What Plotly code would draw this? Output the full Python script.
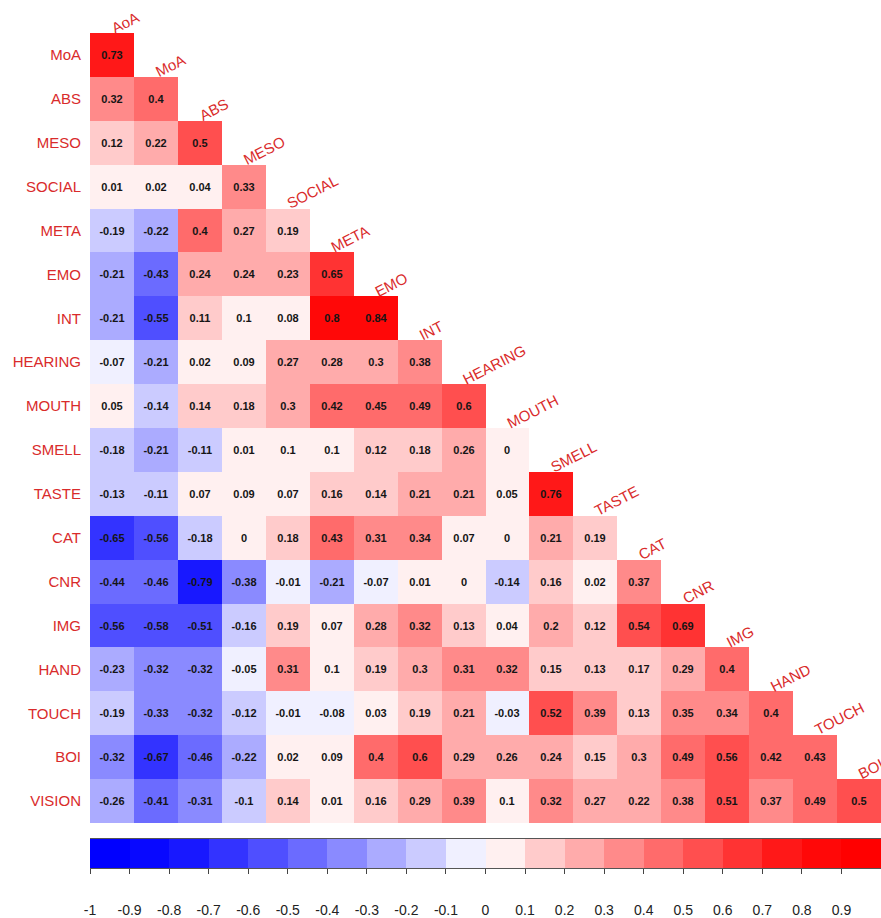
import plotly.graph_objects as go

# ---------------- data ----------------
variables = ["AoA", "MoA", "ABS", "MESO", "SOCIAL", "META", "EMO", "INT", "HEARING",
             "MOUTH", "SMELL", "TASTE", "CAT", "CNR", "IMG", "HAND", "TOUCH", "BOI", "VISION"]
col_labels = variables[:-1]   # columns AoA .. BOI
row_labels = variables[1:]    # rows MoA .. VISION

r_MoA = [0.73]
r_ABS = [0.32, 0.4]
r_MESO = [0.12, 0.22, 0.5]
r_SOCIAL = [0.01, 0.02, 0.04, 0.33]
r_META = [-0.19, -0.22, 0.4, 0.27, 0.19]
r_EMO = [-0.21, -0.43, 0.24, 0.24, 0.23, 0.65]
r_INT = [-0.21, -0.55, 0.11, 0.1, 0.08, 0.8, 0.84]
r_HEARING = [-0.07, -0.21, 0.02, 0.09, 0.27, 0.28, 0.3, 0.38]
r_MOUTH = [0.05, -0.14, 0.14, 0.18, 0.3, 0.42, 0.45, 0.49, 0.6]
r_SMELL = [-0.18, -0.21, -0.11, 0.01, 0.1, 0.1, 0.12, 0.18, 0.26, 0]
r_TASTE = [-0.13, -0.11, 0.07, 0.09, 0.07, 0.16, 0.14, 0.21, 0.21, 0.05, 0.76]
r_CAT = [-0.65, -0.56, -0.18, 0, 0.18, 0.43, 0.31, 0.34, 0.07, 0, 0.21, 0.19]
r_CNR = [-0.44, -0.46, -0.79, -0.38, -0.01, -0.21, -0.07, 0.01, 0, -0.14, 0.16, 0.02, 0.37]
r_IMG = [-0.56, -0.58, -0.51, -0.16, 0.19, 0.07, 0.28, 0.32, 0.13, 0.04, 0.2, 0.12, 0.54, 0.69]
r_HAND = [-0.23, -0.32, -0.32, -0.05, 0.31, 0.1, 0.19, 0.3, 0.31, 0.32, 0.15, 0.13, 0.17, 0.29, 0.4]
r_TOUCH = [-0.19, -0.33, -0.32, -0.12, -0.01, -0.08, 0.03, 0.19, 0.21, -0.03, 0.52, 0.39, 0.13,
           0.35, 0.34, 0.4]
r_BOI = [-0.32, -0.67, -0.46, -0.22, 0.02, 0.09, 0.4, 0.6, 0.29, 0.26, 0.24, 0.15, 0.3, 0.49,
         0.56, 0.42, 0.43]
r_VISION = [-0.26, -0.41, -0.31, -0.1, 0.14, 0.01, 0.16, 0.29, 0.39, 0.1, 0.32, 0.27, 0.22,
            0.38, 0.51, 0.37, 0.49, 0.5]

rows = [r_MoA, r_ABS, r_MESO, r_SOCIAL, r_META, r_EMO, r_INT, r_HEARING, r_MOUTH, r_SMELL,
        r_TASTE, r_CAT, r_CNR, r_IMG, r_HAND, r_TOUCH, r_BOI, r_VISION]

# colour legend
bin_colors = ["#0000FF", "#0808FF", "#1818FF", "#3333FF", "#4F4FFF", "#6B6BFF", "#8A8AFF",
              "#ABABFF", "#CBCBFF", "#F0F0FF", "#FFF0F0", "#FFCBCB", "#FFABAB", "#FF8A8A",
              "#FF6B6B", "#FF4F4F", "#FF3333", "#FF1818", "#FF0808", "#FF0000"]
legend_bins = [-0.95, -0.85, -0.75, -0.65, -0.55, -0.45, -0.35, -0.25, -0.15, -0.05,
               0.05, 0.15, 0.25, 0.35, 0.45, 0.55, 0.65, 0.75, 0.85, 0.95]
legend_ticks = [-1, -0.9, -0.8, -0.7, -0.6, -0.5, -0.4, -0.3, -0.2, -0.1, 0,
                0.1, 0.2, 0.3, 0.4, 0.5, 0.6, 0.7, 0.8, 0.9, 1]
legend_ticktext = ["-1", "-0.9", "-0.8", "-0.7", "-0.6", "-0.5", "-0.4", "-0.3", "-0.2", "-0.1",
                   "0", "0.1", "0.2", "0.3", "0.4", "0.5", "0.6", "0.7", "0.8", "0.9", "1"]

# ---------------- build ----------------
n = len(col_labels)
colorscale = []
for i, c in enumerate(bin_colors):
    colorscale.append([i / 20, c])
    colorscale.append([(i + 1) / 20, c])

z = []
txt = []
for r in rows:
    zr = list(r) + [None] * (n - len(r))
    z.append(zr)
    txt.append([("" if v is None else f"{v:g}") for v in zr])

LABEL_RED = "#D92B2B"

fig = go.Figure()
fig.add_trace(go.Heatmap(
    z=z, x=list(range(n)), y=list(range(len(rows))),
    text=txt, texttemplate="%{text}",
    textfont=dict(family="Liberation Sans", size=11, color="#151515", weight="bold"),
    colorscale=colorscale, zmin=-1, zmax=1, showscale=False,
    hoverongaps=False, xgap=0, ygap=0,
    xaxis="x", yaxis="y",
))

fig.add_trace(go.Heatmap(
    z=[legend_bins], x=legend_bins, y=[0],
    colorscale=colorscale, zmin=-1, zmax=1, showscale=False,
    xaxis="x2", yaxis="y2", hoverinfo="skip",
))

annotations = []
for j, name in enumerate(col_labels):
    annotations.append(dict(
        x=j, y=j - 0.5, xref="x", yref="y", text=name, showarrow=False,
        textangle=-27, xanchor="left", yanchor="bottom", xshift=-6, yshift=-6,
        font=dict(family="Liberation Sans", size=15, color=LABEL_RED),
    ))

W, H = 881, 918
mt, mb = 33, 0
ph = H - mt - mb
main_bottom = (H - 823) / ph
bar_bottom = (H - 868) / ph
bar_top = (H - 839) / ph

fig.update_layout(
    width=W, height=H,
    margin=dict(l=90, r=0, t=mt, b=mb),
    paper_bgcolor="white", plot_bgcolor="white",
    annotations=annotations,
    xaxis=dict(domain=[0, 1], range=[-0.5, n - 0.5], showticklabels=False, showgrid=False,
               zeroline=False, showline=False, ticks=""),
    yaxis=dict(domain=[main_bottom, 1], range=[len(rows) - 0.5, -0.5], tickmode="array",
               tickvals=list(range(len(rows))), ticktext=row_labels, showgrid=False,
               zeroline=False, showline=False, ticks="", ticklabelstandoff=8,
               tickfont=dict(family="Liberation Sans", size=15, color=LABEL_RED)),
    xaxis2=dict(domain=[0, 1], anchor="y2", range=[-1, 1], tickmode="array",
                tickvals=legend_ticks, ticktext=legend_ticktext, ticks="outside", ticklen=5,
                tickcolor="#444444", showline=True, linecolor="#555555", mirror=True,
                showgrid=False, zeroline=False, ticklabelstandoff=24,
                tickfont=dict(family="Liberation Sans Narrow, Liberation Sans", size=14,
                              color="#222222")),
    yaxis2=dict(domain=[bar_bottom, bar_top], anchor="x2", range=[-0.5, 0.5],
                showticklabels=False, showgrid=False, zeroline=False, showline=False),
    showlegend=False,
)

fig.write_html(
    "out.html",
    config={"displayModeBar": False},
    post_script="document.body.style.margin='0';"
                "document.documentElement.style.overflow='hidden';"
                "document.body.style.overflow='hidden';",
)
